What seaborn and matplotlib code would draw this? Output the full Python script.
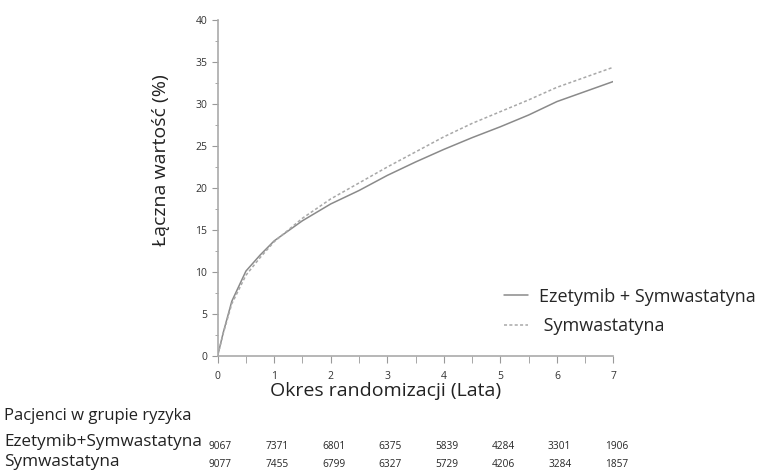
import numpy as np
import pandas as pd
import seaborn as sns
import matplotlib.pyplot as plt
import matplotlib.transforms as mtransforms
from matplotlib.ticker import MultipleLocator

# dane
lata = [0, 0.1, 0.25, 0.5, 0.75, 1, 1.5, 2, 2.5, 3, 3.5, 4, 4.5, 5, 5.5, 6, 6.5, 7]
ezetymib_symw = [0, 2.8, 6.5, 10.1, 12.0, 13.7, 16.1, 18.1, 19.7, 21.5, 23.1, 24.6, 26.0, 27.3, 28.7, 30.3, 31.5, 32.7]
symwastatyna = [0, 2.7, 6.2, 9.6, 11.7, 13.6, 16.4, 18.7, 20.6, 22.5, 24.3, 26.1, 27.7, 29.1, 30.5, 32.0, 33.2, 34.4]

grupy = ["Ezetymib + Symwastatyna", "Symwastatyna"]
ryzyko_lata = [0, 1, 2, 3, 4, 5, 6, 7]
ryzyko_ezet = [9067, 7371, 6801, 6375, 5839, 4284, 3301, 1906]
ryzyko_symw = [9077, 7455, 6799, 6327, 5729, 4206, 3284, 1857]

df = pd.DataFrame({
    "lata": lata * 2,
    "wartosc": ezetymib_symw + symwastatyna,
    "grupa": [grupy[0]] * len(lata) + [grupy[1]] * len(lata),
})

sns.set_style("white")
plt.rcParams['font.family'] = ['Open Sans', 'DejaVu Sans']

kolory = ["#8a8a8a", "#a8a8a8"]

fig = plt.figure(figsize=(7.76, 4.70), dpi=100)
ax = fig.add_axes([0.2805, 0.243, 0.510, 0.714])

sns.lineplot(data=df, x="lata", y="wartosc", hue="grupa", style="grupa",
             palette=kolory, dashes=[(None, None), (2, 1.5)],
             linewidth=1.1, ax=ax, legend=False)

ax.set_xlim(0, 7)
ax.set_ylim(0, 40)
ax.xaxis.set_major_locator(MultipleLocator(1))
ax.xaxis.set_minor_locator(MultipleLocator(0.5))
ax.yaxis.set_major_locator(MultipleLocator(5))
ax.yaxis.set_minor_locator(MultipleLocator(2.5))
ax.tick_params(which="both", direction="out", color="#999999", labelsize=7.5,
               labelcolor="#333333", left=True, bottom=True, pad=3.5)
ax.tick_params(axis="x", which="both", length=4.8, pad=6)
ax.tick_params(axis="y", which="major", length=4)
ax.tick_params(axis="y", which="minor", length=2.5)
for s in ["top", "right"]:
    ax.spines[s].set_visible(False)
for s in ["left", "bottom"]:
    ax.spines[s].set_color("#aaaaaa")
    ax.spines[s].set_linewidth(1.2)

ax.set_xlabel("Okres randomizacji (Lata)", fontsize=14, color="#222222")
ax.set_ylabel("Łączna wartość (%)", fontsize=14, color="#222222")
ax.xaxis.set_label_coords(0.425, -0.078)
ax.yaxis.set_label_coords(-0.12, 0.583)

# legenda
uchwyty = [plt.Line2D([], [], color=kolory[0], lw=1.1),
           plt.Line2D([], [], color=kolory[1], lw=1.1, dashes=(2, 1.5))]
fig.legend(uchwyty, ["Ezetymib + Symwastatyna", " Symwastatyna"], loc="upper left",
           bbox_to_anchor=(0.65, 0.388), frameon=False, fontsize=13,
           handlelength=1.3, handletextpad=0.6, labelspacing=0.62,
           borderpad=0, borderaxespad=0)

# tabela pacjentów w grupie ryzyka
trans = mtransforms.blended_transform_factory(ax.transData, fig.transFigure)
fig.text(0.005, 0.115, "Pacjenci w grupie ryzyka", fontsize=12, va="center", color="#222222")
fig.text(0.005, 0.06, "Ezetymib+Symwastatyna", fontsize=12.3, va="center", color="#222222")
fig.text(0.005, 0.016, "Symwastatyna", fontsize=12.3, va="center", color="#222222")
for x, a, b in zip(ryzyko_lata, ryzyko_ezet, ryzyko_symw):
    ax.text(x + 0.05, 0.05, str(a), transform=trans, fontsize=7.3, ha="center", va="center")
    ax.text(x + 0.05, 0.011, str(b), transform=trans, fontsize=7.3, ha="center", va="center")

fig.savefig("out.png", dpi=100)
